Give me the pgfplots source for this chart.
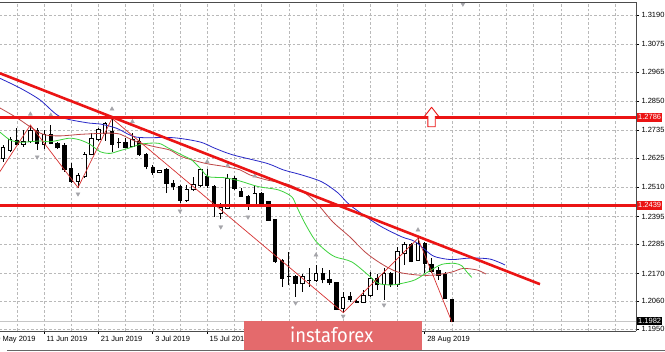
\documentclass[border=0pt]{standalone}
\usepackage{pgfplots}
\usepackage{pgfplotstable}
\pgfplotsset{compat=1.18}
\usepackage{fontspec}
\setmainfont{Liberation Sans}
\newfontfamily\logofont{Fira Sans}
\newcommand\ticksz{\fontsize{7.5}{9}\selectfont}
\definecolor{trend}{RGB}{235,20,20}
\definecolor{jaw}{RGB}{40,40,200}
\definecolor{teeth}{RGB}{190,70,70}
\definecolor{lips}{RGB}{60,210,60}
\definecolor{zz}{RGB}{215,50,50}
\definecolor{fractal}{RGB}{165,165,170}
\definecolor{gridc}{RGB}{185,185,185}
\definecolor{logo}{RGB}{228,106,108}

\pgfplotstableread{
i O H L C
-6 1.2625 1.2677 1.2611 1.2666
-5 1.2657 1.2710 1.2651 1.2697
-4 1.2693 1.2743 1.2677 1.2680
-3 1.2680 1.2736 1.2670 1.2690
-2 1.2690 1.2756 1.2684 1.2736
-1 1.2736 1.2743 1.2657 1.2684
0 1.2680 1.2736 1.2662 1.2719
1 1.2719 1.2756 1.2680 1.2684
2 1.2681 1.2688 1.2661 1.2666
3 1.2674 1.2684 1.2572 1.2579
4 1.2585 1.2605 1.2526 1.2535
5 1.2535 1.2566 1.2509 1.2556
6 1.2552 1.2651 1.2546 1.2638
7 1.2640 1.2723 1.2638 1.2704
8 1.2700 1.2745 1.2693 1.2739
9 1.2723 1.2769 1.2693 1.2763
10 1.2732 1.2782 1.2651 1.2680
11 1.2686 1.2704 1.2664 1.2688
12 1.2686 1.2704 1.2664 1.2668
13 1.2670 1.2723 1.2668 1.2700
14 1.2690 1.2704 1.2634 1.2638
15 1.2638 1.2644 1.2581 1.2592
16 1.2589 1.2598 1.2559 1.2568
17 1.2568 1.2579 1.2565 1.2576
18 1.2579 1.2585 1.2487 1.2526
19 1.2526 1.2539 1.2500 1.2513
20 1.2513 1.2519 1.2447 1.2460
21 1.2460 1.2519 1.2452 1.2500
22 1.2500 1.2552 1.2496 1.2523
23 1.2519 1.2581 1.2513 1.2579
24 1.2552 1.2583 1.2506 1.2519
25 1.2513 1.2519 1.2394 1.2440
26 1.2408 1.2447 1.2384 1.2431
27 1.2427 1.2562 1.2423 1.2546
28 1.2546 1.2556 1.2500 1.2506
29 1.2493 1.2506 1.2473 1.2476
30 1.2473 1.2480 1.2421 1.2436
31 1.2440 1.2519 1.2434 1.2484
32 1.2484 1.2493 1.2440 1.2447
33 1.2453 1.2457 1.2379 1.2381
34 1.2381 1.2384 1.2213 1.2217
35 1.2221 1.2226 1.2118 1.2151
36 1.2158 1.2255 1.2125 1.2160
37 1.2158 1.2164 1.2079 1.2131
38 1.2129 1.2168 1.2098 1.2160
39 1.2142 1.2191 1.2118 1.2144
40 1.2142 1.2204 1.2138 1.2168
41 1.2171 1.2191 1.2131 1.2145
42 1.2147 1.2184 1.2125 1.2134
43 1.2134 1.2138 1.2026 1.2029
44 1.2033 1.2098 1.2016 1.2076
45 1.2079 1.2098 1.2059 1.2066
46 1.2061 1.2066 1.2053 1.2057
47 1.2057 1.2105 1.2053 1.2083
48 1.2083 1.2177 1.2079 1.2151
49 1.2151 1.2167 1.2105 1.2125
50 1.2125 1.2190 1.2066 1.2171
51 1.2171 1.2177 1.2118 1.2125
52 1.2125 1.2275 1.2118 1.2255
53 1.2249 1.2296 1.2204 1.2283
54 1.2283 1.2289 1.2214 1.2217
55 1.2223 1.2309 1.2220 1.2289
56 1.2289 1.2296 1.2171 1.2210
57 1.2206 1.2230 1.2171 1.2180
58 1.2180 1.2197 1.2145 1.2164
59 1.2164 1.2177 1.2070 1.2072
60 1.2066 1.2069 1.1978 1.1982
}\candles

\begin{document}
\begin{tikzpicture}[x=1pt,y=1pt]
\begin{axis}[
  scale only axis, width=636pt, height=329pt,
  xmin=-6.47, xmax=87.06, ymin=1.19433, ymax=1.32413,
  axis background/.style={fill=white},
  axis x line*=bottom, axis y line*=right,
  axis line style={black!70, line width=0.7pt},
  tick align=outside, major tick length=3pt, minor tick length=0pt,
  tick style={black, line width=0.6pt},
  xtick={0,8,16,24,32,40,48,56},
  xticklabels={11 Jun 2019,21 Jun 2019,3 Jul 2019,15 Jul 2019,,,,28 Aug 2019},
  minor xtick={-4,4,12,20,28,36,44,52,60,64,68,72,76,80,84},
  xmajorgrids, xminorgrids, ymajorgrids,
  major grid style={gridc, dash pattern=on 2.5pt off 2pt, line width=0.5pt},
  minor grid style={gridc, dash pattern=on 2.5pt off 2pt, line width=0.5pt},
  ytick={1.1950,1.2060,1.2170,1.2285,1.2395,1.2510,1.2625,1.2735,1.2850,1.2965,1.3075,1.3190},
  yticklabels={1.1950,1.2060,1.2170,1.2285,1.2395,1.2510,1.2625,1.2735,1.2850,1.2965,1.3075,1.3190},
  scaled y ticks=false, scaled x ticks=false,
  ticklabel style={font=\ticksz, text=black},
  xticklabel style={anchor=north west, xshift=-1pt, yshift=1pt},
  yticklabel style={anchor=west, xshift=-1pt},
  clip mode=individual,
]
% bid line
\addplot[gray!45, line width=0.6pt, forget plot] coordinates {(-6.47,1.1982) (87.06,1.1982)};
% wicks
\addplot[draw=none, mark=none, forget plot, error bars/.cd, y dir=plus, y explicit, error mark=none,
  error bar style={draw=black, line width=0.9pt}]
  table[x=i, y=L, y error plus expr={\thisrow{H}-\thisrow{L}}] {\candles};
% bodies (outline / bear)
\addplot[draw=none, mark=none, forget plot, error bars/.cd, y dir=plus, y explicit, error mark=none,
  error bar style={draw=black, line width=4.4pt}]
  table[x=i, y expr={min(\thisrow{O},\thisrow{C})-0.00022}, y error plus expr={abs(\thisrow{C}-\thisrow{O})+0.00044}] {\candles};
% bull bodies (white inside)
\addplot[draw=none, mark=none, forget plot, error bars/.cd, y dir=plus, y explicit, error mark=none,
  error bar style={draw=white, line width=2.6pt}]
  table[x=i, y expr={\thisrow{O}+0.00018}, y error plus expr={max(\thisrow{C}-\thisrow{O}-0.00036,0)}] {\candles};
% Alligator jaw (blue)
\addplot[jaw, line width=0.8pt, smooth] coordinates {
(-6.47,1.2940) (-3.53,1.2902) (-0.59,1.2855) (2.35,1.2789) (6.28,1.2765) (8.24,1.2760) (10.69,1.2743)
(13.63,1.2708) (18.97,1.2706) (22.94,1.2689) (25.15,1.2664) (27.79,1.2638) (32.75,1.2605) (35.19,1.2579)
(37.90,1.2559) (40.84,1.2532) (43.24,1.2488) (45,1.2440) (49.16,1.2362) (52.60,1.2315) (54.56,1.2296)
(57.01,1.2243) (58.49,1.2230) (60.15,1.2225) (62.65,1.2231) (65.59,1.2227) (67.79,1.2204)};
% Alligator teeth (dark red)
\addplot[teeth, line width=0.8pt, smooth] coordinates {
(-6.47,1.2823) (-3.97,1.2784) (-1.32,1.2736) (0.15,1.2717) (2.35,1.2713) (5.29,1.2719) (7.5,1.2722)
(9.71,1.2724) (11.18,1.2720) (12.35,1.2705) (14.12,1.2685) (16.32,1.2670) (18.53,1.2657) (20.25,1.2631)
(23.68,1.2605) (26.62,1.2592) (28.82,1.2579) (30.29,1.2559) (32.79,1.2539) (35.74,1.2523) (37.65,1.2500)
(39.12,1.2472) (40.59,1.2433) (42.5,1.2373) (45,1.2314) (47.21,1.2255) (49.41,1.2212) (51.91,1.2177)
(55,1.2164) (57.5,1.2164) (60,1.2176) (61.62,1.2190) (63.68,1.2184) (65,1.2168)};
% Alligator lips (green)
\addplot[lips, line width=0.8pt, smooth] coordinates {
(-6.47,1.2728) (-5,1.2697) (-3.53,1.2688) (-2.06,1.2690) (-0.59,1.2693) (0.88,1.2690) (2.35,1.2697)
(3.82,1.2704) (5.29,1.2697) (6.76,1.2680) (8.24,1.2651) (9.71,1.2644) (11.18,1.2655) (12.40,1.2664)
(14.37,1.2681) (16.81,1.2684) (18.28,1.2665) (20.25,1.2638) (21.72,1.2618) (23.19,1.2579) (24.16,1.2552)
(26.62,1.2548) (28.82,1.2535) (31.51,1.2513) (34.46,1.2500) (36.43,1.2473) (37.16,1.2434) (38.38,1.2368)
(39.85,1.2302) (41.32,1.2263) (42.79,1.2236) (45.25,1.2216) (47.69,1.2164) (49.16,1.2131) (51.13,1.2125)
(52.60,1.2131) (54.56,1.2145) (56.51,1.2177) (58.49,1.2206) (60.44,1.2210) (61.47,1.2200) (62.16,1.2177)
(62.90,1.2155)};
% ZigZag
\addplot[zz, line width=0.7pt] coordinates {
(-7,1.2551) (-2,1.2756) (5,1.2509) (10,1.2782) (44,1.2016) (55,1.2309) (60,1.1978)};
% fractals
\addplot[only marks, mark=triangle*, mark size=2.3pt, color=fractal] coordinates {
(-2,1.2799) (1,1.2795) (10,1.2819) (13,1.2769) (24,1.2611) (27,1.2596) (31,1.2555) (40,1.2243) (55,1.2342)};
\addplot[only marks, mark=triangle*, mark size=2.3pt, color=fractal, mark options={rotate=180}] coordinates {
(-1,1.2630) (5,1.2484) (20,1.2417) (26,1.2354) (30,1.2393) (37,1.2054) (44,1.2002) (50,1.2046) (61.6,1.3233)};
% horizontal levels and trend line
\addplot[trend, line width=2.8pt] coordinates {(-6.47,1.2786) (87.06,1.2786)};
\addplot[trend, line width=2.8pt] coordinates {(-6.47,1.2439) (87.06,1.2439)};
\addplot[trend, line width=2.6pt] coordinates {(-6.47,1.2960) (72.94,1.2128)};
% up arrow
\addplot[draw=trend, fill=white, line width=0.9pt] coordinates {
(57.0,1.2826) (58.08,1.2789) (57.54,1.2789) (57.54,1.2749) (56.46,1.2749) (56.46,1.2789) (55.92,1.2789) (57.0,1.2826)};
\draw[black!70, line width=0.7pt] (rel axis cs:0,1) -- (rel axis cs:1,1);
\coordinate (SW) at (rel axis cs:0,0);
\coordinate (r1) at (axis cs:87.06,1.2786);
\coordinate (r2) at (axis cs:87.06,1.2439);
\coordinate (r3) at (axis cs:87.06,1.1982);
\coordinate (m30) at (axis cs:-8,1.19433);
\end{axis}
\node[fill=trend, text=white, font=\ticksz, anchor=west, inner sep=1pt, minimum height=9pt] at ([xshift=1pt]r1) {1.2786};
\node[fill=trend, text=white, font=\ticksz, anchor=west, inner sep=1pt, minimum height=9pt] at ([xshift=1pt]r2) {1.2439};
\node[fill=black, text=white, font=\ticksz, anchor=west, inner sep=1pt, minimum height=8.5pt] at ([xshift=1pt]r3) {1.1982};
\node[font=\ticksz, anchor=north west, inner sep=0.333em] at ([xshift=-1pt,yshift=-2pt]m30) {30 May 2019};
\begin{scope}[shift={(SW)}, yshift=-21pt]
\draw[black!60, line width=0.8pt] (7,2) -- (665,2);
\fill[logo] (244.3,1.7) rectangle (421.7,30.7);
\node[anchor=base, inner sep=0, text=white] at (331.7,9.3) {\resizebox{83pt}{15.7pt}{\logofont instaforex}};
\end{scope}
\pgfresetboundingbox
\path[use as bounding box] ([yshift=-21pt]SW) rectangle ([xshift=665pt,yshift=331pt]SW);
\end{tikzpicture}
\end{document}
